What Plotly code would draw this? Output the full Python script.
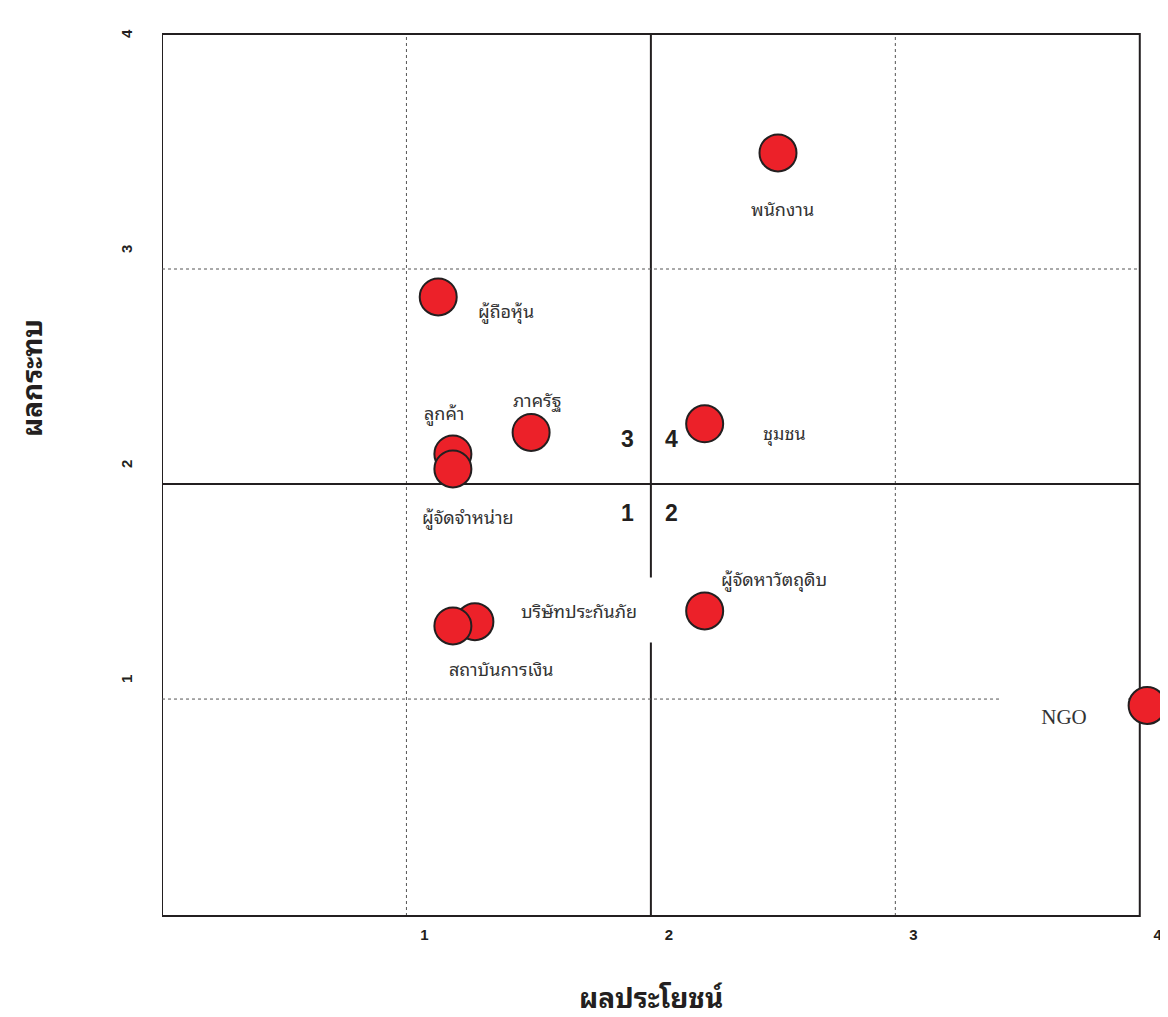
import plotly.graph_objects as go

# stakeholder map: benefit (x) vs impact (y)
names = ["พนักงาน", "ผู้ถือหุ้น", "ภาครัฐ", "ลูกค้า", "ผู้จัดจำหน่าย", "ชุมชน",
         "ผู้จัดหาวัตถุดิบ", "บริษัทประกันภัย", "สถาบันการเงิน", "NGO"]
benefit = [2.52, 1.13, 1.51, 1.19, 1.19, 2.22, 2.22, 1.28, 1.19, 4.03]
impact = [3.54, 2.87, 2.24, 2.14, 2.07, 2.28, 1.41, 1.36, 1.34, 0.97]

# label offsets in pixels (dx, dy) from each point
label_dx = [4, 68, 6, -9, 15, 80, 69, 104, 49, -83]
label_dy = [-55, -13, 33, 42, -47, -8, 33, 12, -42, -11]

tick_vals = [1, 2, 3, 4]
quadrants = ["1", "2", "3", "4"]
quad_dx = [-23, 21, -23, 21]
quad_dy = [-29, -29, 45, 45]

THAI = "Noto Sans Thai Looped, Noto Sans Thai, Tahoma, sans-serif"
INK = "#231F20"

fig = go.Figure()

fig.add_trace(go.Scatter(
    x=benefit, y=impact, mode="markers",
    marker=dict(size=37, color="#EC2129", line=dict(color=INK, width=2)),
    cliponaxis=False, hoverinfo="text", text=names, showlegend=False,
))

# grid lines and frame
for v in [1, 3]:
    fig.add_shape(type="line", x0=v, x1=v, y0=0, y1=1, xref="x", yref="paper",
                  line=dict(color="#555", width=1, dash="dot"), layer="below")
    fig.add_shape(type="line", y0=v, y1=v, x0=0, x1=4, yref="y", xref="x",
                  line=dict(color="#555", width=1, dash="dot"), layer="below")
fig.add_shape(type="line", x0=2, x1=2, y0=0, y1=1, xref="x", yref="paper",
              line=dict(color=INK, width=2), layer="below")
fig.add_shape(type="line", y0=2, y1=2, x0=0, x1=4, yref="y", xref="x",
              line=dict(color=INK, width=2), layer="below")
fig.add_shape(type="rect", x0=0, x1=4, y0=0, y1=1, xref="x", yref="paper",
              line=dict(color=INK, width=2), layer="below")

for i, n in enumerate(names):
    is_ngo = n == "NGO"
    kw = {}
    if n == "บริษัทประกันภัย":
        kw = dict(bgcolor="white", width=150, height=62)
    if is_ngo:
        kw = dict(bgcolor="white", width=122, height=50)
    fig.add_annotation(
        x=benefit[i], y=impact[i], text=n, showarrow=False,
        xshift=label_dx[i], yshift=label_dy[i],
        font=dict(family="Liberation Serif, Times New Roman, serif" if is_ngo else THAI,
                  size=21 if is_ngo else 18, color="#333"),
        **kw,
    )

for q, dx, dy in zip(quadrants, quad_dx, quad_dy):
    fig.add_annotation(x=2, y=2, text="<b>" + q + "</b>", showarrow=False,
                       xshift=dx, yshift=dy,
                       font=dict(family="Liberation Sans, Arial", size=23, color=INK))

# axis titles
fig.add_annotation(x=0.494, y=-0.0896, xref="paper", yref="paper", text="<b>ผลประโยชน์</b>",
                   showarrow=False, yanchor="middle",
                   font=dict(family=THAI, size=28, color=INK))
fig.add_annotation(x=-0.1333, y=0.61, xref="paper", yref="paper", text="<b>ผลกระทบ</b>",
                   showarrow=False, textangle=-90, xanchor="center", yanchor="middle",
                   font=dict(family=THAI, size=28, color=INK))

tick_font = dict(family="Liberation Sans, Arial", size=15, color=INK, weight="bold")
tick_text = ["<b>%d</b>" % v for v in tick_vals]
fig.update_xaxes(range=[0, 4.05], tickvals=tick_vals, ticktext=tick_text,
                 ticklabelshift=18, ticklabelstandoff=8, showgrid=False, zeroline=False,
                 showline=False, automargin=False, tickfont=tick_font)
fig.update_yaxes(range=[-0.009, 4.093], tickvals=tick_vals, ticktext=tick_text,
                 tickangle=-90, ticklabelshift=-18, ticklabelstandoff=26, showgrid=False,
                 zeroline=False, showline=False, automargin=False, tickfont=tick_font)

# page body adds an 8px offset, so the figure is 8px smaller and margins shifted
fig.update_layout(
    width=1160, height=1009,
    margin=dict(l=154, r=16, t=26, b=101),
    plot_bgcolor="white", paper_bgcolor="white",
)

fig.write_html("out.html")
